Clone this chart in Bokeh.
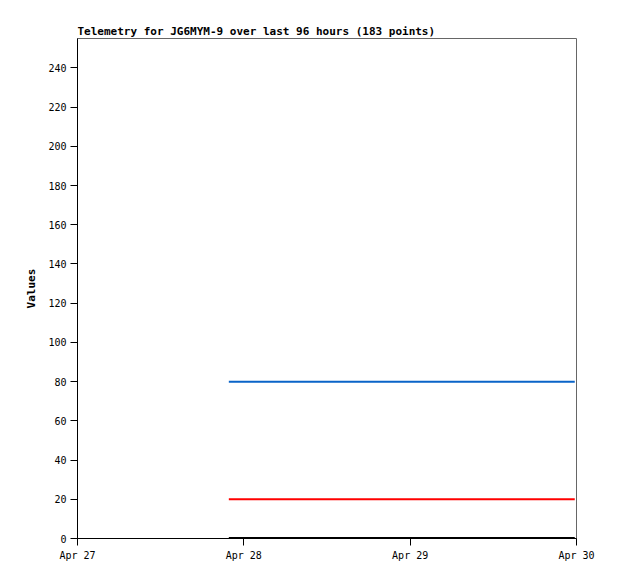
from datetime import datetime
from bokeh.plotting import figure
from bokeh.models import FixedTicker, DatetimeTickFormatter, Range1d
from bokeh.embed import file_html
from bokeh.resources import INLINE

# data
times = [datetime(2024, 4, 27, 21, 50), datetime(2024, 4, 28, 12, 0), datetime(2024, 4, 29, 12, 0), datetime(2024, 4, 29, 23, 45)]
series_blue = [80, 80, 80, 80]
series_red = [20, 20, 20, 20]
series_black = [0, 0, 0, 0]
y_ticks = [0, 20, 40, 60, 80, 100, 120, 140, 160, 180, 200, 220, 240]
x_tick_dates = [datetime(2024, 4, 27), datetime(2024, 4, 28), datetime(2024, 4, 29), datetime(2024, 4, 30)]
title_text = "Telemetry for JG6MYM-9 over last 96 hours (183 points)"

FONT = "DejaVu Sans Mono"

p = figure(width=610, height=575, output_backend="svg", toolbar_location=None,
           x_axis_type="datetime", title=title_text,
           x_range=Range1d(x_tick_dates[0], x_tick_dates[-1]),
           y_range=Range1d(0, 255),
           frame_width=499, frame_height=500,
           min_border_left=77, min_border_right=34, min_border_top=38, min_border_bottom=37)

p.title.text_font = FONT
p.title.text_font_size = "11px"
p.title.text_font_style = "bold"
p.title.text_color = "black"
p.title.align = "left"
p.title.offset = 0
p.title.standoff = 2

p.line(times, series_blue, line_color="#0a64c8", line_width=2)
p.line(times, series_red, line_color="#ff0000", line_width=2)
p.line(times, series_black, line_color="#000000", line_width=3)

p.xgrid.visible = False
p.ygrid.visible = False
p.outline_line_color = "#666666"
p.outline_line_width = 1
p.background_fill_color = "white"
p.border_fill_color = "white"

ms = [int(d.timestamp() * 1000) for d in x_tick_dates]
p.xaxis.ticker = FixedTicker(ticks=ms)
p.xaxis.formatter = DatetimeTickFormatter(days="%b %d", months="%b %d", hours="%b %d")
p.yaxis.ticker = FixedTicker(ticks=y_ticks)
p.yaxis.axis_label = "Values"

for ax in (p.xaxis[0], p.yaxis[0]):
    ax.major_tick_out = 7
    ax.major_tick_in = 0
    ax.minor_tick_out = 0
    ax.minor_tick_in = 0
    ax.axis_line_color = "black"
    ax.major_tick_line_color = "black"
    ax.major_label_text_font = FONT
    ax.major_label_text_font_size = "10px"
    ax.major_label_text_color = "black"
    ax.axis_label_text_font = FONT
    ax.axis_label_text_font_size = "11px"
    ax.axis_label_text_font_style = "bold"
    ax.axis_label_text_color = "black"
    ax.major_label_standoff = 4

p.yaxis.axis_label_standoff = 7

open("out.html", "w").write(file_html(p, INLINE))
